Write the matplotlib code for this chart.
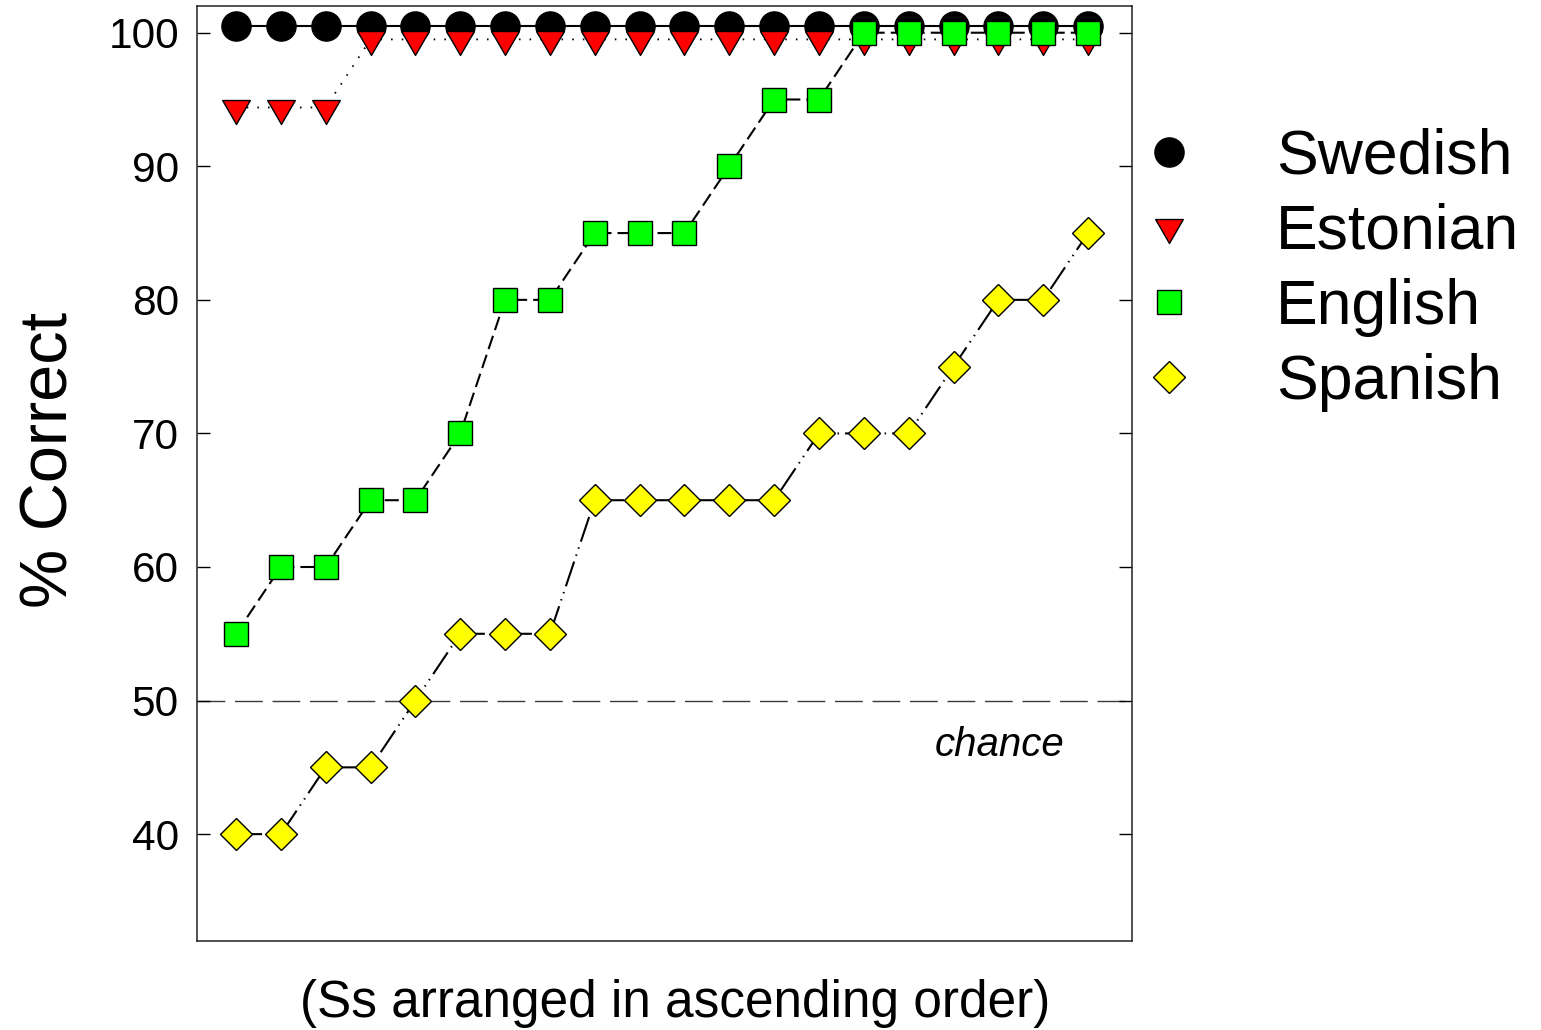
import matplotlib
matplotlib.use('Agg')
import matplotlib.pyplot as plt
from matplotlib.lines import Line2D
from matplotlib.path import Path

plt.rcParams['font.family'] = ['Liberation Sans', 'DejaVu Sans']

# subjects, sorted in ascending order of score
subjects = list(range(1, 21))
swedish = [100.5, 100.5, 100.5, 100.5, 100.5, 100.5, 100.5, 100.5, 100.5, 100.5,
           100.5, 100.5, 100.5, 100.5, 100.5, 100.5, 100.5, 100.5, 100.5, 100.5]
estonian = [94.4, 94.4, 94.4, 99.5, 99.5, 99.5, 99.5, 99.5, 99.5, 99.5,
            99.5, 99.5, 99.5, 99.5, 99.5, 99.5, 99.5, 99.5, 99.5, 99.5]
english = [55, 60, 60, 65, 65, 70, 80, 80, 85, 85,
           85, 90, 95, 95, 100, 100, 100, 100, 100, 100]
spanish = [40, 40, 45, 45, 50, 55, 55, 55, 65, 65,
           65, 65, 65, 70, 70, 70, 75, 80, 80, 85]
chance = 50
yticks = [40, 50, 60, 70, 80, 90, 100]

# down triangle with its centroid at the origin
tri_down = Path([(-1, 0.577), (1, 0.577), (0, -1.155), (-1, 0.577)],
                [Path.MOVETO, Path.LINETO, Path.LINETO, Path.CLOSEPOLY])

series = [
    ('Swedish', swedish, dict(marker='o', ms=21, mfc='black', ls='-', dashes=())),
    ('Estonian', estonian, dict(marker=tri_down, ms=23, mfc='#ff0000', ls='--', dashes=(0.9, 5.0), lw=1.3)),
    ('English', english, dict(marker='s', ms=17, mfc='#00ff00', ls='--', dashes=(6.7, 2.9))),
    ('Spanish', spanish, dict(marker='D', ms=16.3, mfc='#ffff00', ls='--', dashes=(12.5, 2.9, 0.7, 2.9, 0.7, 2.9))),
]

fig = plt.figure(figsize=(15.41, 10.30), dpi=100)
ax = fig.add_axes([197 / 1541, 89 / 1030, 935 / 1541, 935 / 1030])

ax.axhline(chance, color='#3a3a3a', lw=1.0, dashes=(20, 7), zorder=1)
ax.text(16.59, 46.7, 'chance', fontsize=29, style='italic', ha='left', va='center')

handles = []
for name, vals, st in series:
    st = dict(st)
    lw = st.pop('lw', 1.5)
    ax.plot(subjects, vals, color='black', lw=lw, mec='black', mew=1.0, zorder=2, **st)
    handles.append(Line2D([], [], ls='none', marker=st['marker'], ms=st['ms'],
                          mfc=st['mfc'], mec='black', mew=1.0))

ax.set_xlim(0.13, 20.98)
ax.set_ylim(32, 102)
ax.set_xticks([])
ax.set_yticks(yticks)
ax.tick_params(axis='y', which='both', direction='in', length=9.5, width=1.0,
               left=True, right=True, labelsize=30.5, pad=13)
for sp in ax.spines.values():
    sp.set_linewidth(1.1)
    sp.set_color('#222222')

ax.set_ylabel('% Correct', fontsize=48)
ax.yaxis.set_label_coords(-0.123, 0.514)
ax.set_xlabel('(Ss arranged in ascending order)', fontsize=37)
ax.xaxis.set_label_coords(0.511, -0.0406)

leg = ax.legend(handles, ['Swedish', 'Estonian', 'English', 'Spanish'],
                loc='upper left', bbox_to_anchor=(1.006, 0.870), frameon=False,
                fontsize=45, handlelength=1.0, handletextpad=1.22,
                borderpad=0, borderaxespad=0, labelspacing=0.26)

fig.savefig('out.png', dpi=100)
